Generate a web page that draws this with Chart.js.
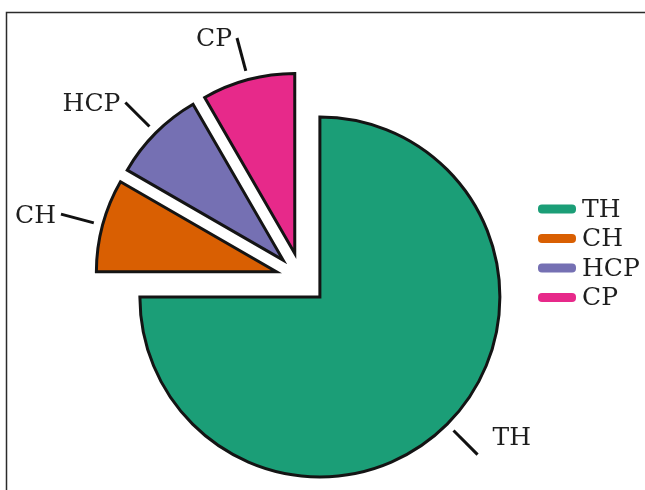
<!DOCTYPE html>
<html>
<head>
<meta charset="utf-8">
<title>TH / CH / HCP / CP</title>
<script src="https://cdn.jsdelivr.net/npm/chart.js@4/dist/chart.umd.min.js"></script>
<style>
  html, body { margin: 0; padding: 0; background: #ffffff; }
  canvas { display: block; }
</style>
</head>
<body>
<canvas id="pie" width="645" height="490"></canvas>
<script>
// Categories and their shares (percent of total)
const categories = ['TH', 'CH', 'HCP', 'CP'];
const shares = [75, 8.33, 8.33, 8.34];
const sliceColors = ['#1b9e77', '#d95f02', '#7570b3', '#e7298a'];

const FONT = '"DejaVu Serif", serif';
const TEXT_COLOR = '#1e1e1e';

// Exploded slices: move each arc rigidly along its bisector by its
// `offset` (in px) so that the slice keeps its radius and straight edges.
const baseArcDraw = Chart.ArcElement.prototype.draw;
Chart.ArcElement.prototype.draw = function (ctx) {
  const shift = this.options.offset || 0;
  const mid = (this.startAngle + this.endAngle) / 2;
  const view = Object.create(this);
  view.options = Object.assign({}, this.options, { offset: 0 });
  ctx.save();
  ctx.translate(Math.cos(mid) * shift, Math.sin(mid) * shift);
  baseArcDraw.call(view, ctx);
  ctx.restore();
};

// Thin frame along the top and left edges
const framePlugin = {
  id: 'frame',
  beforeDraw(chart) {
    const ctx = chart.ctx;
    ctx.save();
    ctx.strokeStyle = '#2b2b2b';
    ctx.lineWidth = 1.5;
    ctx.beginPath();
    ctx.moveTo(6.5, chart.height);
    ctx.lineTo(6.5, 12.5);
    ctx.lineTo(chart.width, 12.5);
    ctx.stroke();
    ctx.restore();
  }
};

// Category names outside each slice with a short radial leader line
const sliceLabels = {
  id: 'sliceLabels',
  afterDatasetsDraw(chart) {
    const ctx = chart.ctx;
    const meta = chart.getDatasetMeta(0);
    ctx.save();
    ctx.font = '25px ' + FONT;
    ctx.fillStyle = TEXT_COLOR;
    ctx.strokeStyle = '#111111';
    ctx.lineWidth = 3;
    ctx.lineCap = 'butt';
    ctx.textBaseline = 'middle';
    meta.data.forEach((arc, i) => {
      const mid = (arc.startAngle + arc.endAngle) / 2;
      const cos = Math.cos(mid), sin = Math.sin(mid);
      const shift = arc.options.offset || 0;
      const cx = arc.x + cos * shift;
      const cy = arc.y + sin * shift;
      const r0 = arc.outerRadius + 9;
      const r1 = arc.outerRadius + 43;
      const x0 = cx + cos * r0, y0 = cy + sin * r0;
      const x1 = cx + cos * r1, y1 = cy + sin * r1;
      ctx.beginPath();
      ctx.moveTo(x0, y0);
      ctx.lineTo(x1, y1);
      ctx.stroke();
      if (cos >= 0) {
        ctx.textAlign = 'left';
        ctx.fillText(chart.data.labels[i], x1 + 15, y1 - 16);
      } else {
        ctx.textAlign = 'right';
        ctx.fillText(chart.data.labels[i], x1 - 5, y1 + 2);
      }
    });
    ctx.restore();
  }
};

// Legend column to the right of the pie
const sideLegend = {
  id: 'sideLegend',
  afterDraw(chart) {
    const ctx = chart.ctx;
    const ds = chart.data.datasets[0];
    const left = chart.width - 107;
    const top = 209;
    const step = 29.5;
    ctx.save();
    ctx.font = '25px ' + FONT;
    ctx.textBaseline = 'middle';
    ctx.textAlign = 'left';
    chart.data.labels.forEach((label, i) => {
      const y = top + i * step;
      ctx.fillStyle = ds.backgroundColor[i];
      ctx.beginPath();
      ctx.roundRect(left, y - 4.5, 38, 9, 4);
      ctx.fill();
      ctx.fillStyle = TEXT_COLOR;
      ctx.fillText(label, left + 44, y + 1);
    });
    ctx.restore();
  }
};

new Chart(document.getElementById('pie'), {
  type: 'pie',
  data: {
    labels: categories,
    datasets: [{
      data: shares,
      backgroundColor: sliceColors,
      borderColor: '#141414',
      borderWidth: 3,
      borderJoinStyle: 'miter',
      offset: 26,
      hoverOffset: 0
    }]
  },
  options: {
    responsive: false,
    animation: false,
    radius: 180,
    layout: { padding: { left: 20, right: 62, top: 67, bottom: 0 } },
    plugins: {
      legend: { display: false },
      tooltip: { enabled: false }
    }
  },
  plugins: [framePlugin, sliceLabels, sideLegend]
});
</script>
</body>
</html>
